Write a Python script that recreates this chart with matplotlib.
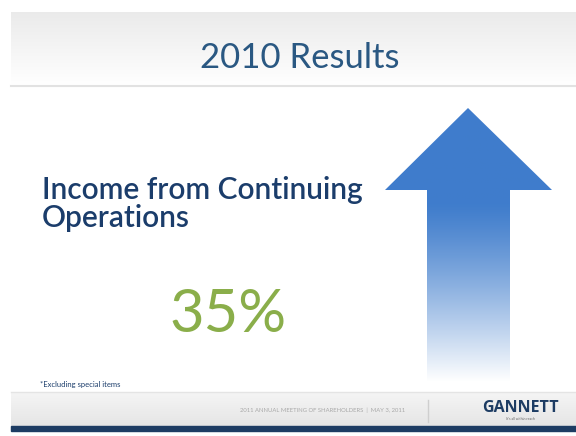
import numpy as np
import matplotlib.pyplot as plt
from matplotlib.patches import Polygon, Rectangle

# slide texts / values
title = "2010 Results"
metric_lines = ["Income from Continuing", "Operations"]
growth_pct = 35
footnote = "*Excluding special items"
footer_text = "2011 ANNUAL MEETING OF SHAREHOLDERS  |  MAY 3, 2011"
brand = "GANNETT"
tagline = "It's all within reach"

W, H = 576, 436
fig = plt.figure(figsize=(W / 100, H / 100), dpi=100)
ax = fig.add_axes([0, 0, 1, 1])
ax.set_xlim(0, W)
ax.set_ylim(H, 0)
ax.axis('off')

# header band with soft gray gradient
grad = np.linspace(0.92, 1.0, 64).reshape(-1, 1)
ax.imshow(np.dstack([grad, grad, grad]), extent=(11, W, 85, 12), aspect='auto', zorder=0)
ax.plot([11, W], [86, 86], color='#e2e2e2', lw=1.5, zorder=1)

# footer band
fgrad = np.linspace(0.96, 0.90, 32).reshape(-1, 1)
ax.imshow(np.dstack([fgrad, fgrad, fgrad]), extent=(11, W, 426, 392), aspect='auto', zorder=0)
ax.plot([11, W], [392, 392], color='#e4e4e4', lw=1, zorder=1)
ax.add_patch(Rectangle((11, 426), W - 11, 5, color='#1d3c63', zorder=1))

# big arrow with fading gradient
arrow = [(468, 108), (552, 190), (510, 190), (510, 382),
         (427, 382), (427, 190), (385, 190)]
poly = Polygon(arrow, closed=True, facecolor='none', edgecolor='none')
ax.add_patch(poly)
t = np.linspace(0, 1, 256).reshape(-1, 1)
top = np.array([0.25, 0.49, 0.80])
fade = np.clip((t - 0.35) / 0.65, 0, 1) ** 1.2
rgb = top * (1 - fade[..., None]) + np.ones(3) * fade[..., None]
rgb = rgb.reshape(256, 1, 3)
img = ax.imshow(rgb, extent=(385, 552, 382, 108), aspect='auto', zorder=2)
img.set_clip_path(poly)

# texts
ax.text(300, 58, title, ha='center', va='center', fontsize=25,
        color='#2a5882', family='Lato')
ax.text(42, 190, metric_lines[0], ha='left', va='center', fontsize=21.5,
        color='#1b3d6b', family='Lato', fontweight='semibold')
ax.text(42, 218, metric_lines[1], ha='left', va='center', fontsize=21.5,
        color='#1b3d6b', family='Lato', fontweight='semibold')
ax.text(228, 315, f"{growth_pct}%", ha='center', va='center', fontsize=43,
        color='#8aae4a', family='Lato')
ax.text(40, 384, footnote, ha='left', va='center', fontsize=5.5,
        color='#1b3d6b', family='Lato')
ax.text(405, 410, footer_text, ha='right', va='center', fontsize=4.2,
        color='#a8a8a8', family='Lato')
ax.plot([428, 428], [400, 422], color='#cfcfcf', lw=1)
ax.text(520, 408, brand, ha='center', va='center', fontsize=11.5,
        color='#1d3c63', family='Open Sans', fontweight='bold')
ax.text(520, 419, tagline, ha='center', va='center', fontsize=2.5,
        color='#666666', family='Lato')

plt.savefig('out.png', dpi=100)
plt.close()
